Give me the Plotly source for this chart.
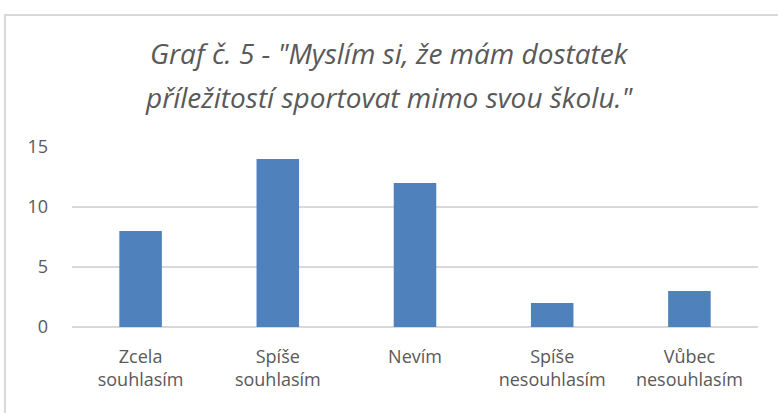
import plotly.graph_objects as go

# ----------------Data (Graf č. 5)
categories = ["Zcela<br>souhlasím", "Spíše<br>souhlasím", "Nevím",
              "Spíše<br>nesouhlasím", "Vůbec<br>nesouhlasím"]
values = [8, 14, 12, 2, 3]
y_ticks = [0, 5, 10, 15]
title_lines = ['Graf č. 5 - "Myslím si, že mám dostatek',
               'příležitostí sportovat mimo svou školu."']

TEXT_COLOR = "#595959"
BAR_COLOR = "#4F81BD"
GRID_COLOR = "#D9D9D9"
FONT = "Open Sans, Liberation Sans, sans-serif"

# Area del grafico in pixel
PLOT_L, PLOT_R, PLOT_T, PLOT_B = 72, 758, 147, 327
PLOT_W, PLOT_H = PLOT_R - PLOT_L, PLOT_B - PLOT_T


def px_y(p):
    # pixel verticale -> coordinata paper
    return (PLOT_B - p) / PLOT_H


def px_x(p):
    return (p - PLOT_L) / PLOT_W


fig = go.Figure(go.Bar(
    x=categories,
    y=values,
    marker=dict(color=BAR_COLOR, line=dict(width=0)),
))

fig.update_layout(
    width=778,
    height=413,
    paper_bgcolor="white",
    plot_bgcolor="white",
    margin=dict(l=PLOT_L, r=778 - PLOT_R, t=PLOT_T, b=413 - PLOT_B),
    bargap=0.69,
    showlegend=False,
    font=dict(family=FONT, color=TEXT_COLOR, size=18),
)

# Titolo su due righe (corsivo)
for text, center in zip(title_lines, [53, 97]):
    fig.add_annotation(
        text=f"<i>{text}</i>",
        xref="paper", yref="paper",
        x=px_x(389), y=px_y(center),
        xanchor="center", yanchor="middle",
        showarrow=False,
        font=dict(family=FONT, size=28, color=TEXT_COLOR),
    )

fig.update_xaxes(
    showgrid=False,
    showline=False,
    ticks="",
    ticklabelstandoff=17,
    tickfont=dict(size=18, color=TEXT_COLOR),
)

fig.update_yaxes(
    range=[0, 15],
    tickvals=y_ticks,
    showgrid=True,
    gridcolor=GRID_COLOR,
    gridwidth=1.5,
    zeroline=True,
    zerolinecolor=GRID_COLOR,
    zerolinewidth=1.5,
    showline=False,
    ticks="",
    ticklabelstandoff=23,
    tickfont=dict(size=18, color=TEXT_COLOR),
)

# Bordo del chart (stile Excel)
fig.add_shape(
    type="rect", xref="paper", yref="paper",
    x0=px_x(5), x1=px_x(790),
    y0=px_y(430), y1=px_y(15),
    line=dict(color=GRID_COLOR, width=2),
    fillcolor="rgba(0,0,0,0)",
    layer="below",
)

fig.write_html("out.html", config={"displayModeBar": False},
               post_script="document.body.style.margin='0';")
